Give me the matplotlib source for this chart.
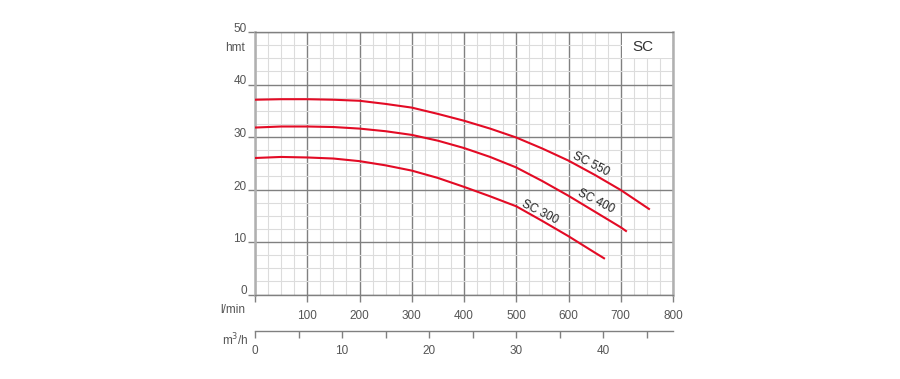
import numpy as np
import matplotlib
matplotlib.use("Agg")
import matplotlib.pyplot as plt
from matplotlib.patches import Rectangle
from matplotlib.ticker import MultipleLocator

plt.rcParams['font.family'] = ['Liberation Sans', 'DejaVu Sans']

# ===== data (l/min -> hmt) =====
q_550 = [0, 50, 100, 150, 200, 250, 300, 350, 400, 450, 500, 550, 600, 650, 700, 754]
h_550 = [37.1, 37.2, 37.2, 37.1, 36.9, 36.3, 35.6, 34.4, 33.1, 31.6, 29.9, 27.8, 25.5, 22.8, 19.9, 16.3]

q_400 = [0, 50, 100, 150, 200, 250, 300, 350, 400, 450, 500, 550, 600, 650, 700, 710]
h_400 = [31.8, 32.0, 32.0, 31.9, 31.6, 31.1, 30.4, 29.3, 27.9, 26.2, 24.2, 21.6, 18.8, 15.8, 12.8, 12.1]

q_300 = [0, 50, 100, 150, 200, 250, 300, 350, 400, 450, 500, 550, 600, 650, 668]
h_300 = [26.0, 26.2, 26.1, 25.9, 25.4, 24.6, 23.6, 22.2, 20.5, 18.7, 16.8, 14.0, 11.1, 8.0, 6.9]

curve_names = ["SC 550", "SC 400", "SC 300"]
label_pos = [(643, 24.8), (652, 17.7), (545, 15.7)]

lmin_ticks = [0, 100, 200, 300, 400, 500, 600, 700, 800]
lmin_labels = ["", "100", "200", "300", "400", "500", "600", "700", "800"]
h_ticks = [0, 10, 20, 30, 40, 50]
m3h_major = [0, 10, 20, 30, 40]
m3h_minor = [5, 15, 25, 35, 45]

red = "#e30b25"
txt = "#555555"

fig = plt.figure(figsize=(9, 3.79), dpi=100)
W, H = 900, 379
left, right, top, bot = 255, 673, 32, 294.5
ax = fig.add_axes([left / W, 1 - bot / H, (right - left) / W, (bot - top) / H])

ax.set_xlim(0, 800)
ax.set_ylim(0, 50)
ax.set_axisbelow(True)

ax.xaxis.set_major_locator(MultipleLocator(100))
ax.xaxis.set_minor_locator(MultipleLocator(25))
ax.yaxis.set_major_locator(MultipleLocator(10))
ax.yaxis.set_minor_locator(MultipleLocator(2.5))
ax.grid(which='minor', color='#dcdcdc', lw=0.8)
ax.grid(which='major', color='#808080', lw=1.0)

ax.set_xticks(lmin_ticks)
ax.set_xticklabels(lmin_labels)
ax.set_yticks(h_ticks)
ax.tick_params(axis='x', which='major', length=5, width=1, color='#808080',
               labelsize=8.5, labelcolor=txt, pad=6)
ax.tick_params(axis='y', which='major', length=5, width=1, color='#808080',
               labelsize=8.5, labelcolor=txt, pad=1)
ax.tick_params(which='minor', length=0)
for lab in ax.get_yticklabels():
    lab.set_verticalalignment('baseline')

for s in ['left', 'right']:
    ax.spines[s].set_color('#b0b0b0')
    ax.spines[s].set_linewidth(1.8)
for s in ['top', 'bottom']:
    ax.spines[s].set_color('#808080')
    ax.spines[s].set_linewidth(1.0)

# curves
for q, h in [(q_550, h_550), (q_400, h_400), (q_300, h_300)]:
    ax.plot(q, h, color=red, lw=1.5, zorder=3, solid_joinstyle='round')

for name, (x, y) in zip(curve_names, label_pos):
    ax.text(x, y, name, rotation=-27, rotation_mode='anchor', ha='center',
            va='center', fontsize=8.5, color='#222222', zorder=4)

# SC box
ax.add_patch(Rectangle((0.878, 0.901), 0.12, 0.097, transform=ax.transAxes,
                       facecolor='white', edgecolor='none', zorder=2))
ax.text(0.928, 0.943, "SC", transform=ax.transAxes, ha='center', va='center',
        fontsize=11, color='#333333', zorder=4)

# m3/h axis
ax2 = fig.add_axes([left / W, 1 - 331 / H, (right - left) / W, 0.0001])
ax2.set_xlim(0, 800 * 0.06)
ax2.set_yticks([])
for s in ['left', 'right', 'top']:
    ax2.spines[s].set_visible(False)
ax2.spines['bottom'].set_color('#808080')
ax2.spines['bottom'].set_linewidth(1.0)
ax2.set_xticks(m3h_major)
ax2.set_xticks(m3h_minor, minor=True)
ax2.tick_params(axis='x', which='both', length=5, width=1, color='#808080',
                labelsize=8.5, labelcolor=txt, pad=5)
ax2.patch.set_visible(False)

# axis titles
fig.text(235 / W, 1 - 48 / H, "hmt", ha='center', va='center', fontsize=8.5, color=txt)
fig.text(233 / W, 1 - 310 / H, "l/min", ha='center', va='center', fontsize=8.5, color=txt)
fig.text(235 / W, 1 - 340 / H, "m$^3$/h", ha='center', va='center', fontsize=8.5, color=txt)

fig.savefig("out.png", dpi=100)
